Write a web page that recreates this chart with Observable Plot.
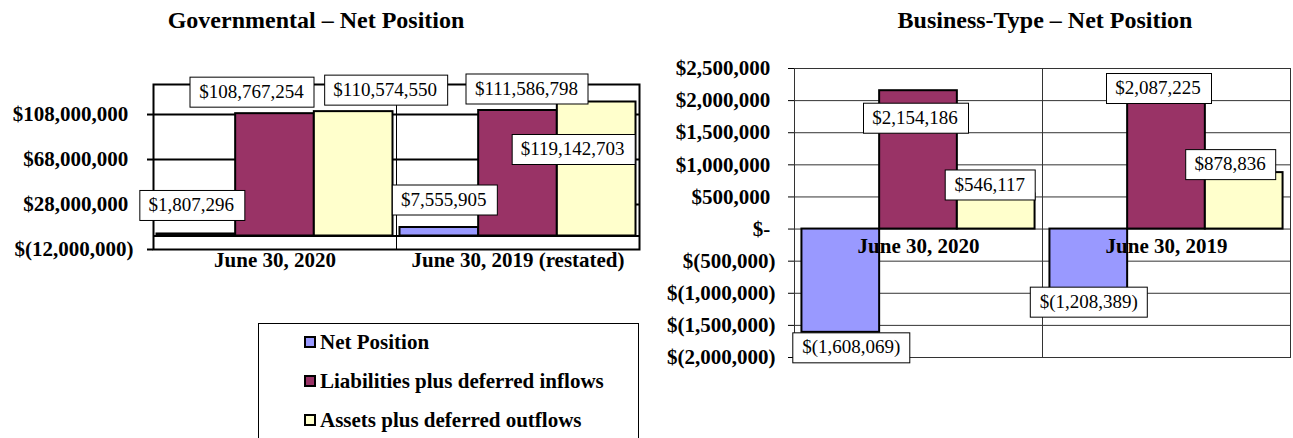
<!DOCTYPE html>
<html>
<head>
<meta charset="utf-8">
<script src="https://cdn.jsdelivr.net/npm/d3@7"></script>
<script src="https://cdn.jsdelivr.net/npm/@observablehq/plot@0.6"></script>
<style>
  html, body { margin: 0; padding: 0; background: #fff; }
  #root { position: relative; width: 1293px; height: 438px; overflow: hidden; background: #fff;
          font-family: "Liberation Serif", "Times New Roman", serif; color: #000; }
  .title { position: absolute; top: 8px; font-weight: bold; font-size: 24px; line-height: 1;
           white-space: nowrap; transform: translateX(-50%); }
  .chart { position: absolute; top: 0; }
  .chart svg { display: block; max-width: none; background: transparent; }
  #legend { position: absolute; left: 258px; top: 323px; width: 381px; height: 140px;
            border: 1px solid #000; box-sizing: border-box; background: #fff; }
  .item { position: absolute; left: 45px; height: 21px; display: flex; align-items: center;
          font-weight: bold; font-size: 21px; line-height: 1; white-space: nowrap; }
  .sw { width: 8px; height: 8px; border: 2px solid #000; margin-right: 4px; flex: none; }
</style>
</head>
<body>
<div id="root">
  <div class="title" id="t1" style="left:316px">Governmental – Net Position</div>
  <div class="title" id="t2" style="left:1045px">Business-Type – Net Position</div>
  <div class="chart" id="gov" style="left:0px"></div>
  <div class="chart" id="biz" style="left:640px"></div>
  <div id="legend"></div>
</div>
<script>
// ---------- data ----------
const govCategories = ["June 30, 2020", "June 30, 2019 (restated)"];
const bizCategories = ["June 30, 2020", "June 30, 2019"];
const seriesNames = ["Net Position", "Liabilities plus deferred inflows", "Assets plus deferred outflows"];
const seriesColors = ["#9999FF", "#993366", "#FFFFCC"];

const govNet = [1807296, 7555905];
const govLiabilities = [108767254, 111586798];
const govAssets = [110574550, 119142703];

const bizNet = [-1608069, -1208389];
const bizLiabilities = [2154186, 2087225];
const bizAssets = [546117, 878836];

const govTicks = [-12000000, 28000000, 68000000, 108000000];
const bizTicks = [-2000000, -1500000, -1000000, -500000, 0, 500000, 1000000, 1500000, 2000000, 2500000];
const govDomain = [-12000000, 134700000];
const bizDomain = [-2000000, 2500000];

// ---------- layout (pixel offsets of the value-label boxes, as placed in the original) ----------
const govLabelOffsets = [[-5, -29], [-23.5, -22], [31.5, -22], [4.5, -28], [8.5, -22], [-24, 47]];
const bizLabelOffsets = [[10.5, 15], [-3.5, 27], [-6.5, -9.5], [0, -5], [-8.5, -7], [-14, -8.5]];
const FONT = '"Liberation Serif", "Times New Roman", serif';
const LABEL_INK = "#010101";

// ---------- helpers ----------
const fmt = d3.format(",.0f");
function money(v) { return v < 0 ? "$(" + fmt(-v) + ")" : "$" + fmt(v); }
function tickMoney(v) {
  if (v < 0) return "$(" + fmt(-v) + ")";
  return (v === 0 ? "$-" : "$" + fmt(v)) + "\u00A0";
}
function buildRows(cats, net, liab, assets) {
  const out = [];
  cats.forEach((c, ci) => [net, liab, assets].forEach((arr, si) =>
    out.push({cat: c, ci, si, series: seriesNames[si], value: arr[ci]})));
  return out;
}
function barMark(data, pad) {
  const w = (1 - 2 * pad) / 3;
  return Plot.rectY(data, {
    x1: d => d.ci + pad + d.si * w,
    x2: d => d.ci + pad + (d.si + 1) * w,
    y1: d => 0,
    y2: "value",
    fill: "series",
    stroke: "#000",
    strokeWidth: 2
  });
}
function labelMarks(data, pad, offsets) {
  const w = (1 - 2 * pad) / 3;
  return data.map((row, k) => Plot.text([row], {
    x: d => d.ci + pad + (d.si + 0.5) * w,
    y: "value",
    text: d => money(d.value),
    dx: offsets[k][0],
    dy: offsets[k][1],
    lineAnchor: "middle",
    textAnchor: "middle",
    fontSize: 19,
    fontWeight: "normal",
    fill: LABEL_INK
  }));
}
function boxLabels(svg) {
  const texts = Array.from(svg.querySelectorAll("text")).filter(t => {
    const c = getComputedStyle(t).fill;
    return c === "rgb(1, 1, 1)";
  });
  texts.forEach(t => {
    const b = t.getBBox();
    const r = document.createElementNS("http://www.w3.org/2000/svg", "rect");
    r.setAttribute("x", Math.round(b.x - 9.5) + 0.5);
    r.setAttribute("y", Math.round(b.y + b.height / 2 - 15) + 0.5);
    r.setAttribute("width", Math.round(b.width + 19));
    r.setAttribute("height", 30);
    r.setAttribute("fill", "#fff");
    r.setAttribute("stroke", "#000");
    r.setAttribute("stroke-width", "1");
    if (t.getAttribute("transform")) r.setAttribute("transform", t.getAttribute("transform"));
    t.parentNode.insertBefore(r, t);
  });
}

const govRows = buildRows(govCategories, govNet, govLiabilities, govAssets);
const bizRows = buildRows(bizCategories, bizNet, bizLiabilities, bizAssets);
const govPad = 0.0144, bizPad = 0.030;

// ---------- Governmental ----------
const govPlot = Plot.plot({
  width: 650, height: 285,
  marginLeft: 153, marginRight: 11, marginTop: 84, marginBottom: 36,
  x: {domain: [0, 2], axis: null},
  y: {domain: govDomain, axis: null},
  color: {domain: seriesNames, range: seriesColors},
  style: {fontFamily: FONT, fontSize: "21px", fontWeight: "bold", color: "#000", background: "transparent", overflow: "visible"},
  marks: [
    Plot.ruleY(govTicks.filter(t => t > govDomain[0]), {stroke: "#000", strokeWidth: 2}),
    Plot.ruleX([1], {stroke: "#000", strokeWidth: 1}),
    Plot.ruleY([0], {stroke: "#000", strokeWidth: 2}),
    barMark(govRows, govPad),
    Plot.frame({stroke: "#000", strokeWidth: 2}),
    Plot.axisY({ticks: govTicks, tickSize: 6, tickPadding: 14, tickFormat: tickMoney, label: null,
                strokeWidth: 2, fontSize: 21, fontWeight: "bold", fill: "#000", stroke: "#000"}),
    Plot.text(govCategories, {x: (d, i) => i + 0.5, frameAnchor: "bottom", lineAnchor: "top", dy: 3,
                              fontSize: 21, fontWeight: "bold", fill: "#000"}),
    ...labelMarks(govRows, govPad, govLabelOffsets)
  ]
});
document.getElementById("gov").appendChild(govPlot);
boxLabels(govPlot);

// ---------- Business-Type ----------
const bizPlot = Plot.plot({
  width: 653, height: 370,
  marginLeft: 154, marginRight: 3, marginTop: 68, marginBottom: 13,
  x: {domain: [0, 2], axis: null},
  y: {domain: bizDomain, axis: null},
  color: {domain: seriesNames, range: seriesColors},
  style: {fontFamily: FONT, fontSize: "21px", fontWeight: "bold", color: "#000", background: "transparent", overflow: "visible"},
  marks: [
    Plot.ruleY(bizTicks, {stroke: "#333", strokeWidth: 1}),
    Plot.ruleX([1], {stroke: "#333", strokeWidth: 1}),
    barMark(bizRows, bizPad),
    Plot.frame({stroke: "#333", strokeWidth: 1}),
    Plot.axisY({ticks: bizTicks, tickSize: 6, tickPadding: 13, tickFormat: tickMoney, label: null,
                strokeWidth: 1, fontSize: 21, fontWeight: "bold", fill: "#000", stroke: "#000"}),
    Plot.text(bizCategories, {x: (d, i) => i + 0.5, y: d => 0, lineAnchor: "top", dy: 9,
                              fontSize: 21, fontWeight: "bold", fill: "#000"}),
    ...labelMarks(bizRows, bizPad, bizLabelOffsets)
  ]
});
document.getElementById("biz").appendChild(bizPlot);
boxLabels(bizPlot);

// ---------- legend ----------
const legend = document.getElementById("legend");
const itemTops = [7.5, 46.5, 85.5];
seriesNames.forEach((name, i) => {
  const item = document.createElement("div");
  item.className = "item";
  item.style.top = itemTops[i] + "px";
  const sw = document.createElement("span");
  sw.className = "sw";
  sw.style.background = seriesColors[i];
  item.appendChild(sw);
  item.appendChild(document.createTextNode(name));
  legend.appendChild(item);
});
</script>
</body>
</html>
